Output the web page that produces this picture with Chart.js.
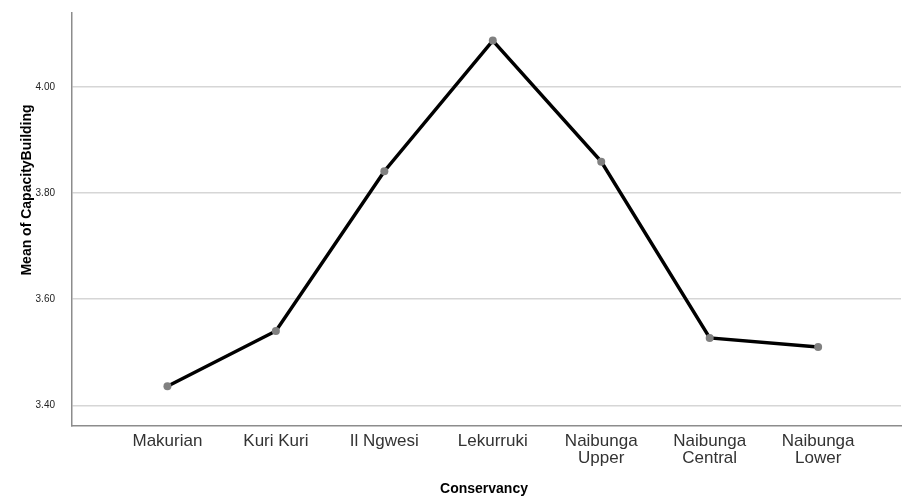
<!DOCTYPE html>
<html lang="en">
  <head>
    <meta charset="UTF-8" />
    <title>Mean of CapacityBuilding by Conservancy</title>
    <script src="https://cdn.jsdelivr.net/npm/chart.js"></script>
    <style>
      html, body { margin: 0; padding: 0; background: #fff; overflow: hidden; }
      canvas { display: block; }
    </style>
  </head>
  <body>
    <canvas id="meanChart" width="905" height="498"></canvas>
    <script>
      // data
      const conservancies = [
        ["Makurian"],
        ["Kuri Kuri"],
        ["Il Ngwesi"],
        ["Lekurruki"],
        ["Naibunga", "Upper"],
        ["Naibunga", "Central"],
        ["Naibunga", "Lower"],
      ];
      const meanValues = [3.436, 3.540, 3.841, 4.087, 3.859, 3.527, 3.510];
      const yTicks = [3.4, 3.6, 3.8, 4.0];

      const font = "'Liberation Sans', Arial, sans-serif";

      const axisTitles = {
        id: "axisTitles",
        afterDraw(chart) {
          const ctx = chart.ctx;
          ctx.save();
          ctx.fillStyle = "#000";
          ctx.font = "bold 14px " + font;
          ctx.textAlign = "center";
          ctx.textBaseline = "middle";
          ctx.fillText("Conservancy", 484, 489);
          ctx.translate(27, 190);
          ctx.rotate(-Math.PI / 2);
          ctx.fillText("Mean of CapacityBuilding", 0, 0);
          ctx.restore();
        },
      };

      new Chart(document.getElementById("meanChart"), {
        type: "line",
        data: {
          datasets: [
            {
              data: meanValues.map((v, i) => ({ x: i, y: v })),
              borderColor: "#000",
              borderWidth: 3.5,
              pointRadius: 4,
              pointBackgroundColor: "#808080",
              pointBorderWidth: 0,
              tension: 0,
            },
          ],
        },
        options: {
          responsive: false,
          animation: false,
          layout: { padding: { top: 13, right: 0, left: 0, bottom: 0 } },
          plugins: { legend: { display: false }, tooltip: { enabled: false } },
          scales: {
            x: {
              type: "linear",
              min: -0.88,
              max: 6.764,
              afterBuildTicks: (scale) => {
                scale.ticks = conservancies.map((_, i) => ({ value: i }));
              },
              afterFit: (scale) => {
                scale.height = 72;
                scale.paddingLeft = 0;
                scale.paddingRight = 0;
              },
              grid: { display: false, drawTicks: false },
              border: { display: true, color: "#8c8c8c", width: 1.5 },
              ticks: {
                padding: 7,
                maxRotation: 0,
                autoSkip: false,
                color: "#333",
                font: { family: font, size: 17, lineHeight: 1.0 },
                callback: (v) => conservancies[v],
              },
            },
            y: {
              min: 3.361,
              max: 4.139,
              afterBuildTicks: (scale) => {
                scale.ticks = yTicks.map((v) => ({ value: v }));
              },
              afterFit: (scale) => {
                scale.width = 72;
                scale.paddingTop = 0;
                scale.paddingBottom = 0;
              },
              grid: { color: "#d6d6d6", lineWidth: 1.5, drawTicks: false },
              border: { display: true, color: "#8c8c8c", width: 1.5 },
              ticks: {
                padding: 17,
                color: "#222",
                font: { family: font, size: 10 },
                callback: (v) => v.toFixed(2),
              },
            },
          },
        },
        plugins: [axisTitles],
      });
    </script>
  </body>
</html>
